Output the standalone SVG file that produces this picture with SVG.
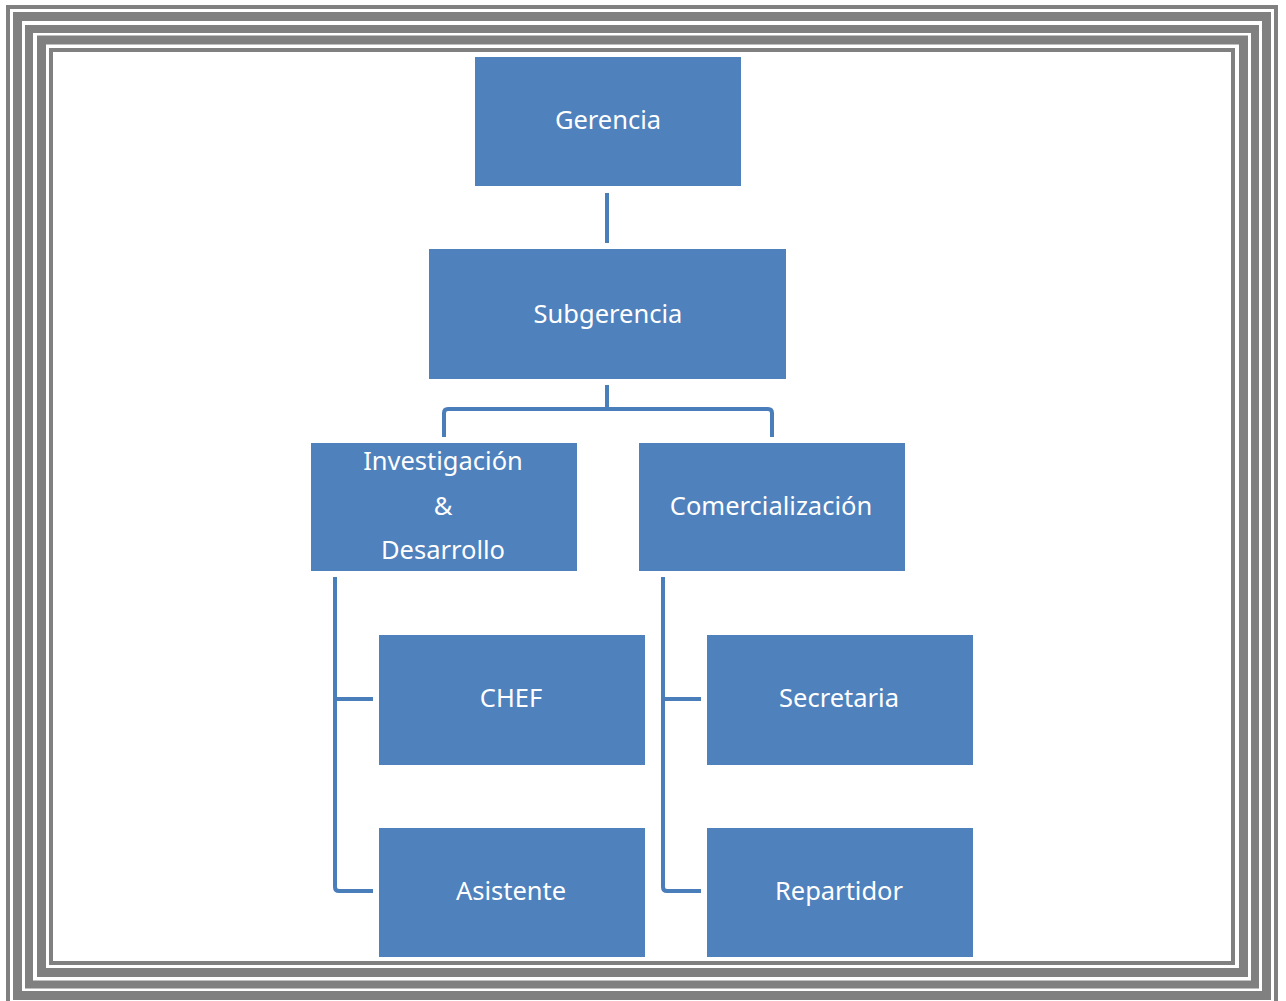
<svg xmlns="http://www.w3.org/2000/svg" width="1286" height="1001" viewBox="0 0 1286 1001">
<style>
.frame{fill:none;stroke:#808080}
.box{fill:#4F81BD}
.lbl{font-family:"Noto Sans","Liberation Sans",sans-serif;font-size:25.5px;fill:#FFFFFF;text-anchor:middle;dominant-baseline:central}
.con{fill:none;stroke:#4A7EBB;stroke-width:4;stroke-linejoin:round;stroke-linecap:butt}
</style>
<rect width="1286" height="1001" fill="#FFFFFF"/>
<g id="frame">
<rect class="frame" x="8" y="7" width="1268" height="1000" stroke-width="4"/>
<rect class="frame" x="17.5" y="16.5" width="1249" height="979" stroke-width="9"/>
<rect class="frame" x="29" y="29" width="1226" height="955.5" stroke-width="8"/>
<rect class="frame" x="41.5" y="40" width="1202" height="932.5" stroke-width="9"/>
<rect class="frame" x="51" y="50" width="1182" height="913" stroke-width="4"/>
</g>
<g id="connectors">
<path class="con" d="M607 193V243"/>
<path class="con" d="M607 385V409M444 437V413Q444 409 448 409H768Q772 409 772 413V437"/>
<path class="con" d="M335 577V887Q335 891 339 891H373M335 699H373"/>
<path class="con" d="M663 577V887Q663 891 667 891H701M663 699H701"/>
</g>
<g id="gerencia"><rect class="box" x="475" y="57" width="266" height="129"/><text class="lbl" x="608" y="119">Gerencia</text></g>
<g id="subgerencia"><rect class="box" x="429" y="249" width="357" height="130"/><text class="lbl" x="608" y="313">Subgerencia</text></g>
<g id="investigacion"><rect class="box" x="311" y="443" width="266" height="128"/><text class="lbl" x="443" y="460">Investigación</text><text class="lbl" x="443" y="505">&amp;</text><text class="lbl" x="443" y="549">Desarrollo</text></g>
<g id="comercializacion"><rect class="box" x="639" y="443" width="266" height="128"/><text class="lbl" x="771" y="505">Comercialización</text></g>
<g id="chef"><rect class="box" x="379" y="635" width="266" height="130"/><text class="lbl" x="511" y="697">CHEF</text></g>
<g id="secretaria"><rect class="box" x="707" y="635" width="266" height="130"/><text class="lbl" x="839" y="697">Secretaria</text></g>
<g id="asistente"><rect class="box" x="379" y="828" width="266" height="129"/><text class="lbl" x="511" y="890">Asistente</text></g>
<g id="repartidor"><rect class="box" x="707" y="828" width="266" height="129"/><text class="lbl" x="839" y="890">Repartidor</text></g>
</svg>
